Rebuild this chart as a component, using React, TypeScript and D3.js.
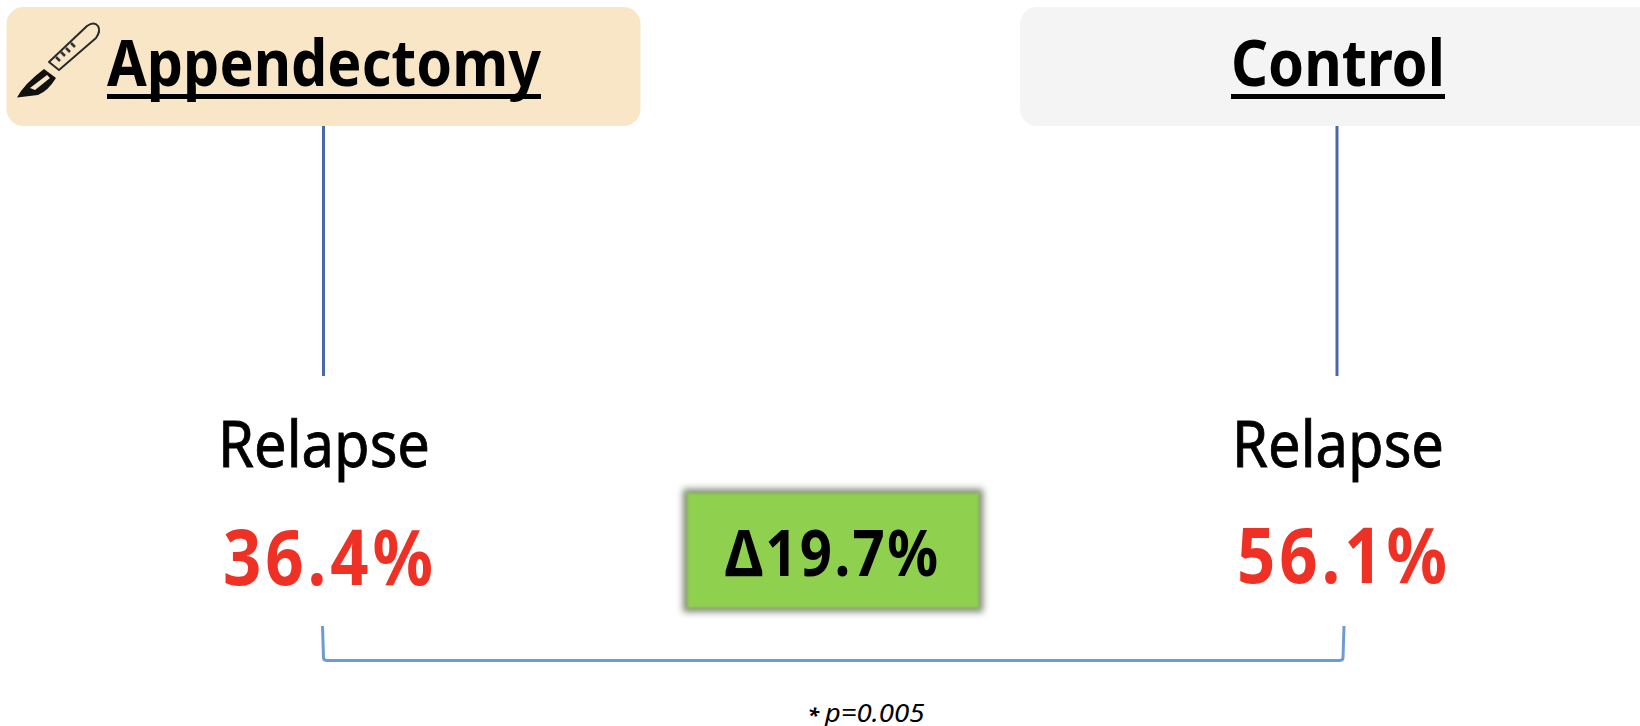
import React from "react";
import * as d3 from "d3";

const arms = ["Appendectomy", "Control"];
const relapseRates = [36.4, 56.1];
const outcomeLabel = "Relapse";
const pValue = "0.005";

const width = 1640;
const height = 726;
const fontFamily = "'Noto Sans', 'Open Sans', sans-serif";

const fmtPct = d3.format(".1f");
const difference = relapseRates[1] - relapseRates[0];

// column positions for each arm
const armX = d3.scaleOrdinal<string, number>().domain(arms).range([323.5, 1337]);
const labelX = d3.scaleOrdinal<string, number>().domain(arms).range([324, 1338]);
const valueX = d3.scaleOrdinal<string, number>().domain(arms).range([328, 1342]);
const valueY = d3.scaleOrdinal<string, number>().domain(arms).range([585, 583]);
const titleX = d3.scaleOrdinal<string, number>().domain(arms).range([324, 1338]);
const boxX = d3.scaleOrdinal<string, number>().domain(arms).range([6.5, 1020]);
const boxW = d3.scaleOrdinal<string, number>().domain(arms).range([634, 640]);
const boxFill = d3.scaleOrdinal<string, string>().domain(arms).range(["#f8e6c6", "#f4f4f4"]);
const titleLen = d3.scaleOrdinal<string, number>().domain(arms).range([434, 214]);

const valueSquash = 0.86;
const deltaSquash = 0.88;

function Scalpel() {
  return (
    <g>
      <path
        d="M49 62 L87 26 Q94 21 98 26 Q101 31 96 38 L59 70 Z"
        fill="none"
        stroke="#2a2a2a"
        strokeWidth={2}
        strokeLinejoin="round"
      />
      <path d="M56 57 L60 61 M61 52 L65 56 M66 48 L70 52 M71 43 L75 47" stroke="#333" strokeWidth={2.5} />
      <path
        d="M44 69 L56 78 Q48 91 38 95 L17 97.5 Q24 84 44 69 Z M30 88 L47 75 L50 78 L35 90 Z"
        fill="#111"
        fillRule="evenodd"
      />
    </g>
  );
}

export default function App() {
  const bracket = d3.path();
  const [x0, x1] = [322.5, 1344];
  const [top, bottom] = [626, 660.5];
  bracket.moveTo(x0, top);
  bracket.lineTo(x0 + 1, bottom - 3);
  bracket.quadraticCurveTo(x0 + 1, bottom, x0 + 5, bottom);
  bracket.lineTo(x1 - 5, bottom);
  bracket.quadraticCurveTo(x1 - 1, bottom, x1 - 1, bottom - 3);
  bracket.lineTo(x1, top);

  return (
    <svg
      width={width}
      height={height}
      style={{ position: "absolute", left: 0, top: 0, display: "block", background: "#fff" }}
      fontFamily={fontFamily}
    >
      <defs>
        <filter id="soft" x="-10%" y="-15%" width="120%" height="130%">
          <feGaussianBlur stdDeviation="3.5" />
        </filter>
        <filter id="edge" x="-5%" y="-5%" width="110%" height="110%">
          <feGaussianBlur stdDeviation="1.5" />
        </filter>
      </defs>

      {arms.map((arm, i) => (
        <g key={arm}>
          <rect x={boxX(arm)} y={7} width={boxW(arm)} height={119} rx={17} fill={boxFill(arm)} />
          <line x1={armX(arm)} x2={armX(arm)} y1={126} y2={376} stroke="#4a69a8" strokeWidth={3} />
          <text
            x={titleX(arm)}
            y={85.5}
            textAnchor="middle"
            fontSize={64}
            fontWeight={700}
            fill="#000"
            textLength={titleLen(arm)}
            lengthAdjust="spacingAndGlyphs"
          >
            {arm}
          </text>
          <rect x={titleX(arm) - titleLen(arm) / 2} y={94} width={titleLen(arm)} height={5} fill="#000" />
          <text
            x={labelX(arm)}
            y={466.5}
            textAnchor="middle"
            fontSize={63}
            fill="#000"
            stroke="#000"
            strokeWidth={0.8}
            textLength={212}
            lengthAdjust="spacingAndGlyphs"
          >
            {outcomeLabel}
          </text>
          <text
            transform={`translate(${valueX(arm)},${valueY(arm)}) scale(${valueSquash},1)`}
            textAnchor="middle"
            fontSize={78}
            fontWeight={700}
            fill="#ee3124"
            style={{ fontKerning: "none" }}
            textLength={210 / valueSquash}
            lengthAdjust="spacing"
          >
            {fmtPct(relapseRates[i])}%
          </text>
        </g>
      ))}

      <Scalpel />

      <path d={bracket.toString()} fill="none" stroke="#6f9bd2" strokeWidth={3} />

      <rect x={683} y={489} width={300} height={123} fill="#5d6b52" opacity={0.8} filter="url(#soft)" />
      <rect x={687} y={493} width={292} height={115} fill="#90d04f" filter="url(#edge)" />
      <text
        transform={`translate(831.5,576) scale(${deltaSquash},1)`}
        textAnchor="middle"
        fontSize={64}
        fontWeight={700}
        fill="#000"
        style={{ fontKerning: "none" }}
        textLength={213 / deltaSquash}
        lengthAdjust="spacing"
      >
        {"Δ"}
        {fmtPct(difference)}%
      </text>

      <text
        x={866}
        y={721.5}
        textAnchor="middle"
        fontSize={26}
        fontStyle="italic"
        fill="#000"
        textLength={117}
        lengthAdjust="spacingAndGlyphs"
      >
        <tspan fontSize={20} fontWeight={700}>* </tspan>p={pValue}
      </text>
    </svg>
  );
}
